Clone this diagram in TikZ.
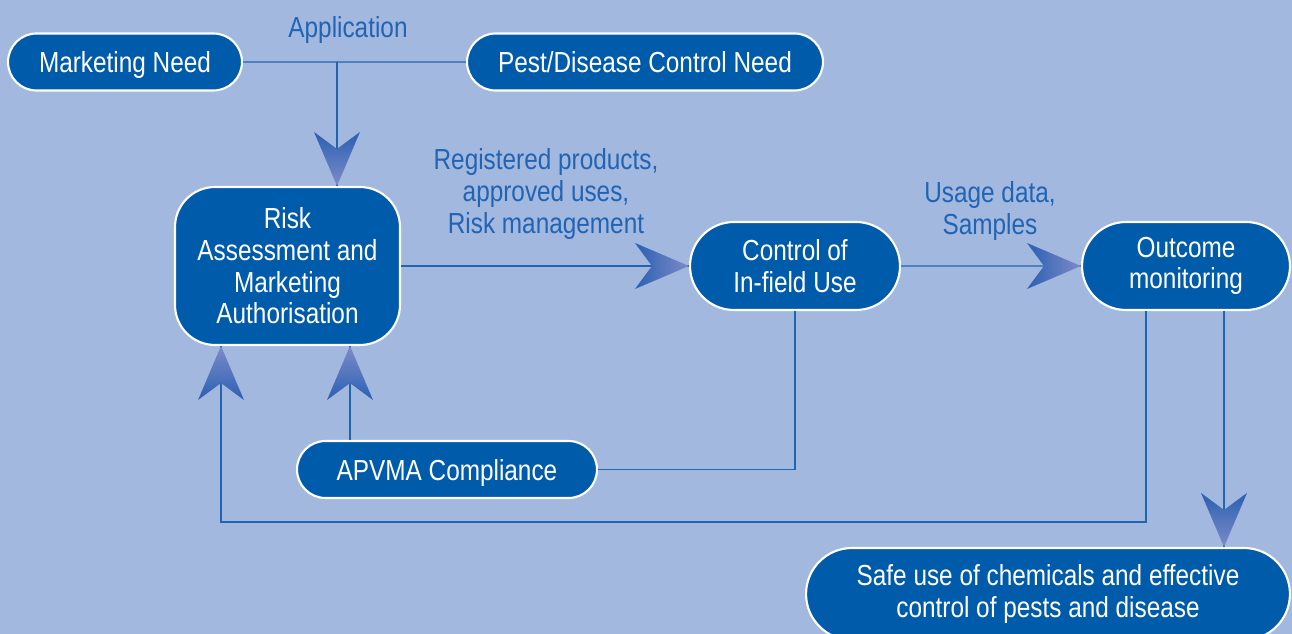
\documentclass[tikz,border=0pt]{standalone}
\usepackage{fontspec}
\setmainfont{Liberation Sans}[FakeStretch=0.84]
\usetikzlibrary{shapes.misc}

\definecolor{skyblue}{HTML}{A3B8DF}
\definecolor{boxblue}{HTML}{005BAA}
\definecolor{lineblue}{HTML}{2064B4}
\definecolor{tipdark}{HTML}{2A60B2}
\definecolor{tiplight}{HTML}{7E8BC8}

\tikzset{
  tipdown/.style={top color=tipdark, bottom color=tiplight},
  tipup/.style={top color=tiplight, bottom color=tipdark},
  tipright/.style={left color=tipdark, right color=tiplight},
  pics/bigtip/.style={code={
      \shade[#1] (0,0) -- (-23,-54) -- (0,-37) -- (23,-54) -- cycle;}}
}

\begin{document}
\begin{tikzpicture}[%
      x=0.02cm, y=-0.02cm,
      every node/.style={font={\fontsize{16.5}{18}\selectfont},
                         align=center, inner sep=0pt},
      stage/.style={rounded rectangle, draw=white, line width=1.2pt,
                    fill=boxblue, text=white},
      bigstage/.style={rectangle, rounded corners=0.8cm, draw=white,
                       line width=1.2pt, fill=boxblue, text=white},
      oneline/.style={text depth=0pt},
      flow/.style={draw=lineblue, line width=0.8pt},
      note/.style={text=lineblue}
    ]
    \fill[skyblue] (0,0) rectangle (1292,634);
    \useasboundingbox (0,0) rectangle (1292,634);

    % top row
    \node [stage, oneline, minimum width=4.68cm, minimum height=1.14cm] (need) at (125,62)
      {Marketing Need};
    \node [stage, oneline, minimum width=7.12cm, minimum height=1.14cm] (pest) at (645,62)
      {Pest/Disease Control Need};
    \node [note, oneline] (app) at (348,27) {Application};

    % middle row
    \node [bigstage, minimum width=4.5cm, minimum height=3.16cm] (risk) at (287.5,266)
      {Risk\\Assessment and\\Marketing\\Authorisation};
    \node [stage, minimum width=4.2cm, minimum height=1.76cm] (ctrl) at (795,266)
      {Control of\\In-field Use};
    \node [stage, minimum width=4.16cm, minimum height=1.76cm] (outc) at (1186,266)
      {Outcome\\monitoring};
    \node [note] (regd) at (546,194)
      {Registered products,\\approved uses,\\Risk management};
    \node [note] (usage) at (990,211) {Usage data,\\Samples};

    % bottom
    \node [stage, oneline, minimum width=6cm, minimum height=1.14cm] (apvma) at (447,469.5)
      {APVMA Compliance};
    \node [stage, minimum width=9.68cm, minimum height=1.84cm] (safe) at (1048,594)
      {Safe use of chemicals and effective\\control of pests and disease};

    \coordinate (tee) at (337,62);
    \coordinate (fbr) at (1146,522);
    \coordinate (fbl) at (221,522);
    \coordinate (upa) at (350,0);
    \coordinate (dnb) at (1224,0);

    % connectors
    \draw [flow] (need) -- (pest);
    \draw [flow] (tee) -- (tee |- risk.north);
    \draw [flow] (risk) -- (ctrl);
    \draw [flow] (ctrl) -- (outc);
    \draw [flow] (upa |- apvma.north) -- (upa |- risk.south);
    \draw [flow] (apvma.east) -| (ctrl.south);
    \draw [flow] (fbr |- outc.south) -- (fbr) -- (fbl) -- (fbl |- risk.south);
    \draw [flow] (dnb |- outc.south) -- (dnb |- safe.north);

    % arrow heads
    \pic at (tee |- risk.north) {bigtip=tipdown};
    \pic [rotate=90] at (ctrl.west) {bigtip=tipright};
    \pic [rotate=90] at (outc.west) {bigtip=tipright};
    \pic [rotate=180] at (upa |- risk.south) {bigtip=tipup};
    \pic [rotate=180] at (fbl |- risk.south) {bigtip=tipup};
    \pic at (dnb |- safe.north) {bigtip=tipdown};
  \end{tikzpicture}
\end{document}
